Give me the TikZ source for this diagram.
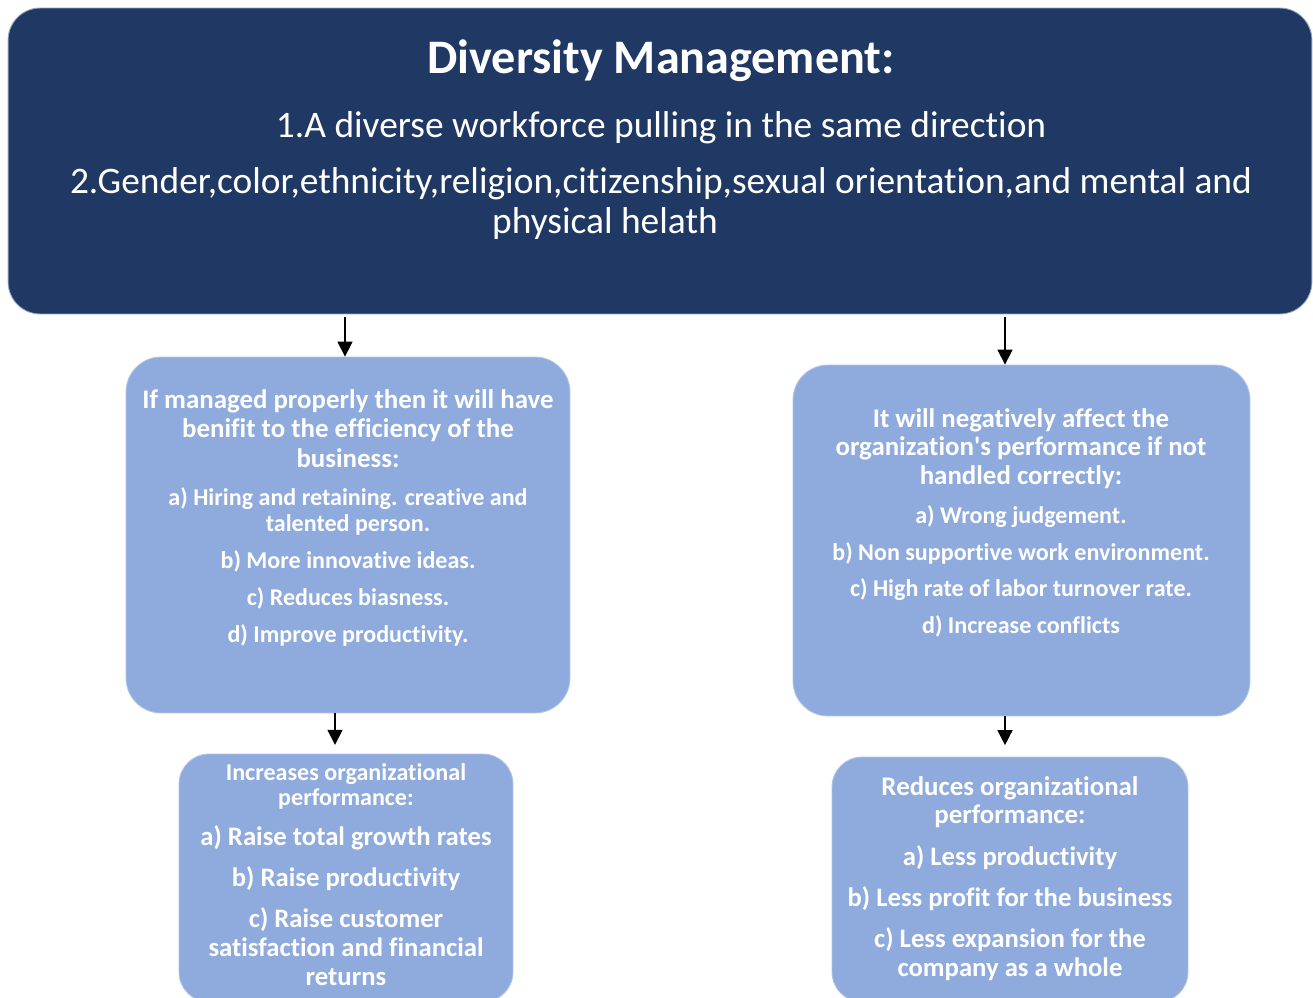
\documentclass[tikz,border=0pt]{standalone}
\usepackage{fontspec}
\setmainfont{Carlito}[Ligatures=NoCommon]
\usetikzlibrary{arrows.meta,positioning}
\definecolor{headnavy}{RGB}{32,56,100}
\definecolor{panelblue}{RGB}{143,170,220}
\definecolor{rimgray}{RGB}{150,165,190}
\definecolor{rimblue}{RGB}{175,195,230}

\begin{document}
\begin{tikzpicture}[
  x=0.02cm, y=-0.02cm,
  headbox/.style={fill=headnavy, draw=rimgray, line width=0.5pt, rounded corners=0.64cm},
  panel/.style={fill=panelblue, draw=rimblue, line width=0.5pt, rounded corners=0.7cm},
  lowpanel/.style={fill=panelblue, draw=rimblue, line width=0.5pt, rounded corners=0.6cm},
  flow/.style={-{Triangle[length=8.5pt, width=8.5pt]}, line width=0.8pt, black},
  % text blocks are placed by the baseline of their last line
  boxtext/.style={text=white, align=center, anchor=base, inner sep=0pt},
]
\useasboundingbox (0,0) rectangle (1313,998);

% -------------------------------------------------------------------------
% Header: the definition of diversity management.
% -------------------------------------------------------------------------
\node[headbox, minimum width=26.08cm, minimum height=6.12cm] (top) at (660,161) {};
\node[boxtext, font=\fontsize{27.4}{33}\selectfont\bfseries] (title) at (661,73)
  {Diversity Management:};
\node[boxtext, font=\fontsize{21.3}{22.7}\selectfont] (defn) at (661,233)
  {1.A diverse workforce pulling in the same direction\\[9pt]
   2.Gender,color,ethnicity,religion,citizenship,sexual orientation,and mental and\\
   physical helath\hspace*{2.24cm}};

% -------------------------------------------------------------------------
% Middle row: managed well versus handled badly.
% -------------------------------------------------------------------------
\node[panel, minimum width=8.88cm, minimum height=7.12cm] (good) at (348,535) {};
\node[boxtext, font=\fontsize{15.3}{16.7}\selectfont\bfseries] (goodhead) at (348,467)
  {If managed properly then it will have\\
   benifit to the efficiency of the\\
   business:};
\node[boxtext, font=\fontsize{13.7}{14.7}\selectfont\bfseries] (goodlist) at (348,642)
  {a) Hiring and retaining. creative and\\
   talented person.\\[6.3pt]
   b) More innovative ideas.\\[6.3pt]
   c) Reduces biasness.\\[6.3pt]
   d) Improve productivity.};

\node[panel, minimum width=9.14cm, minimum height=7.02cm] (bad) at (1021.5,540.5) {};
\node[boxtext, font=\fontsize{15.3}{16.2}\selectfont\bfseries] (badhead) at (1021,484)
  {It will negatively affect the\\
   organization\textquotesingle s performance if not\\
   handled correctly:};
\node[boxtext, font=\fontsize{13.7}{20.7}\selectfont\bfseries] (badlist) at (1021,633)
  {a) Wrong judgement.\\
   b) Non supportive work environment.\\
   c) High rate of labor turnover rate.\\
   d) Increase conflicts};

% -------------------------------------------------------------------------
% Bottom row: effect on organizational performance.
% -------------------------------------------------------------------------
\node[lowpanel, minimum width=6.68cm, minimum height=4.96cm] (gain) at (346,878) {};
\node[boxtext, font=\fontsize{13.7}{14.2}\selectfont\bfseries] (gainhead) at (346,805)
  {Increases organizational\\
   performance:};
\node[boxtext, font=\fontsize{15.2}{16.4}\selectfont\bfseries] (gainlist) at (346,985)
  {a) Raise total growth rates\\[6.8pt]
   b) Raise productivity\\[6.8pt]
   c) Raise customer\\
   satisfaction and financial\\
   returns};

\node[lowpanel, minimum width=7.12cm, minimum height=4.9cm] (loss) at (1010,879.5) {};
\node[boxtext, font=\fontsize{15.3}{15.9}\selectfont\bfseries] (losshead) at (1010,823)
  {Reduces organizational\\
   performance:};
\node[boxtext, font=\fontsize{15.2}{16.4}\selectfont\bfseries] (losslist) at (1010,976)
  {a) Less productivity\\[6.8pt]
   b) Less profit for the business\\[6.8pt]
   c) Less expansion for the\\
   company as a whole};

% connectors
\draw[flow, shorten <=1.5pt] ([xshift=-0.06cm]good.north |- top.south) -- ([xshift=-0.06cm]good.north);
\draw[flow, shorten <=1.5pt] ([xshift=-0.33cm]bad.north |- top.south) -- ([xshift=-0.33cm]bad.north);
\draw[flow, shorten >=5pt] ([xshift=-0.26cm]good.south) -- ([xshift=-0.26cm]good.south |- gain.north);
\draw[flow, shorten >=6.5pt] ([xshift=-0.33cm]bad.south) -- ([xshift=-0.33cm]bad.south |- loss.north);
\end{tikzpicture}
\end{document}
